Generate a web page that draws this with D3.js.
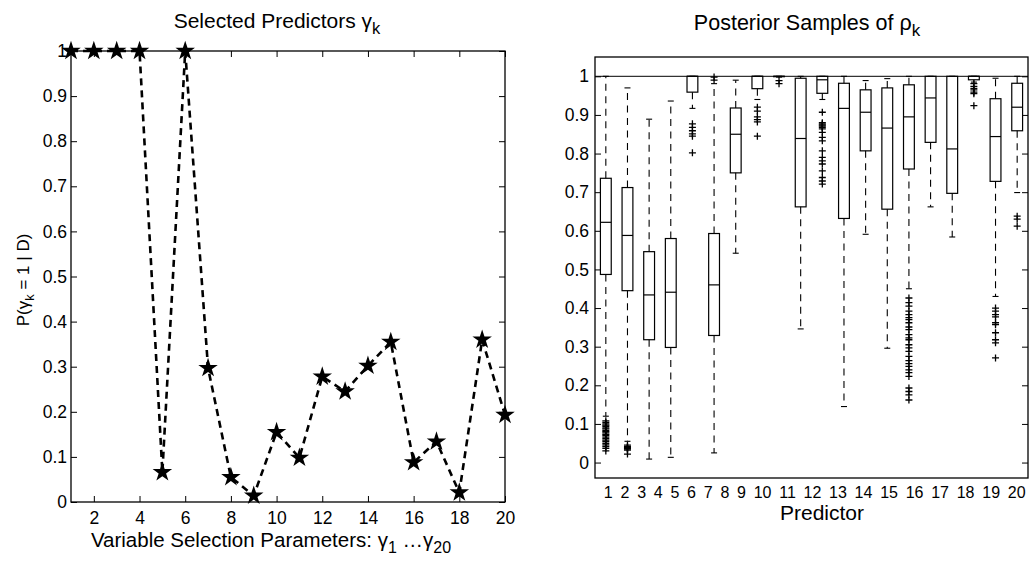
<!DOCTYPE html>
<html>
<head>
<meta charset="utf-8">
<script src="https://cdn.jsdelivr.net/npm/d3@7"></script>
<style>
  body { margin: 0; background: #fff; }
  svg text { font-family: "Liberation Sans", Arial, Helvetica, sans-serif; fill: #000; }
</style>
</head>
<body>
<svg id="chart" width="1034" height="566"></svg>
<script>
// ---- left panel: P(gamma_k = 1 | D) for each variable ----
var gammaIndex = d3.range(1, 21);
var gammaProb = [1, 1, 1, 1, 0.066, 1, 0.297, 0.055, 0.014, 0.155,
                 0.098, 0.278, 0.245, 0.302, 0.355, 0.088, 0.134, 0.021, 0.36, 0.193];
var leftXTicks = [2, 4, 6, 8, 10, 12, 14, 16, 18, 20];
var probTicks = [0, 0.1, 0.2, 0.3, 0.4, 0.5, 0.6, 0.7, 0.8, 0.9, 1];

// ---- right panel: boxplot summaries of rho_k posterior samples ----
var predictors = d3.range(1, 21);
var rhoWhiskLo = [0.12, 0.055, 0.009, 0.0135, 0.917, 0.025, 0.542, 0.94, 0.998, 0.346,
                  0.94, 0.145, 0.591, 0.296, 0.45, 0.662, 0.584, 0.985, 0.43, 0.699];
var rhoQ1 = [0.487, 0.445, 0.318, 0.298, 0.959, 0.329, 0.75, 0.968, 0.999, 0.662,
             0.956, 0.632, 0.807, 0.656, 0.76, 0.829, 0.697, 0.991, 0.728, 0.859];
var rhoMedian = [0.622, 0.588, 0.434, 0.441, 1, 0.46, 0.85, 1, 1, 0.839,
                 0.991, 0.917, 0.907, 0.866, 0.895, 0.944, 0.812, 1, 0.844, 0.92];
var rhoQ3 = [0.736, 0.712, 0.546, 0.58, 1, 0.593, 0.918, 1, 1, 0.995,
             1, 0.982, 0.965, 0.97, 0.978, 1, 1, 1, 0.942, 0.982];
var rhoWhiskHi = [1, 0.97, 0.889, 0.936, 1, 0.981, 0.99, 1, 1, 1,
                  1, 1, 0.989, 0.994, 1, 1, 1, 1, 0.995, 1];
var rhoOutliers = [
  [0.108, 0.104, 0.1, 0.097, 0.094, 0.09, 0.087, 0.083, 0.08, 0.077, 0.073, 0.07, 0.066,
   0.062, 0.058, 0.055, 0.05, 0.046, 0.042, 0.037, 0.03],
  [0.045, 0.041, 0.039, 0.037, 0.035, 0.032, 0.022],
  [],
  [],
  [0.877, 0.868, 0.859, 0.851, 0.845, 0.802],
  [0.99, 0.998],
  [],
  [0.92, 0.91, 0.895, 0.888, 0.882, 0.845],
  [0.989, 0.981],
  [],
  [0.907, 0.88, 0.877, 0.874, 0.871, 0.868, 0.864, 0.855, 0.842, 0.833, 0.807, 0.79,
   0.781, 0.773, 0.755, 0.738, 0.729, 0.721],
  [],
  [],
  [],
  [0.426, 0.414, 0.405, 0.392, 0.383, 0.375, 0.37, 0.362, 0.351, 0.344, 0.331, 0.323,
   0.318, 0.305, 0.297, 0.288, 0.275, 0.264, 0.256, 0.249, 0.24, 0.233, 0.223, 0.193,
   0.184, 0.175, 0.162],
  [],
  [],
  [0.981, 0.974, 0.969, 0.965, 0.959, 0.955, 0.924],
  [0.4, 0.392, 0.383, 0.377, 0.362, 0.357, 0.336, 0.318, 0.31, 0.271],
  [0.638, 0.63, 0.612]
];

var svg = d3.select("#chart");
var tickFont = "17.5px";

// ================= left panel =================
var L = { left: 71, right: 505, top: 51, bottom: 502 };
var xL = d3.scaleLinear().domain([1, 20]).range([L.left, L.right]);
var yL = d3.scaleLinear().domain([0, 1]).range([L.bottom, L.top]);
var fmt = d3.format("");

var gl = svg.append("g");

gl.append("g")
  .attr("transform", "translate(0," + L.bottom + ")")
  .call(d3.axisBottom(xL).tickValues(leftXTicks).tickSizeInner(-6).tickSizeOuter(0).tickPadding(10))
  .call(g => g.select(".domain").remove());
gl.append("g")
  .attr("transform", "translate(0," + L.top + ")")
  .call(d3.axisTop(xL).tickValues(leftXTicks).tickSizeInner(-6).tickSizeOuter(0).tickFormat(""))
  .call(g => g.select(".domain").remove());
gl.append("g")
  .attr("transform", "translate(" + L.left + ",0)")
  .call(d3.axisLeft(yL).tickValues(probTicks).tickSizeInner(-6).tickSizeOuter(0).tickPadding(4).tickFormat(fmt))
  .call(g => g.select(".domain").remove());
gl.append("g")
  .attr("transform", "translate(" + L.right + ",0)")
  .call(d3.axisRight(yL).tickValues(probTicks).tickSizeInner(-6).tickSizeOuter(0).tickFormat(""))
  .call(g => g.select(".domain").remove());

gl.selectAll(".tick line").attr("stroke", "#000").attr("stroke-width", 1);
gl.selectAll(".tick text").attr("font-size", tickFont).attr("font-family", null);

gl.append("rect")
  .attr("x", L.left).attr("y", L.top)
  .attr("width", L.right - L.left).attr("height", L.bottom - L.top)
  .attr("fill", "none").attr("stroke", "#000").attr("stroke-width", 1.3);

var line = d3.line()
  .x((d, i) => xL(gammaIndex[i]))
  .y(d => yL(d));

gl.append("path")
  .datum(gammaProb)
  .attr("d", line)
  .attr("fill", "none")
  .attr("stroke", "#000")
  .attr("stroke-width", 2.6)
  .attr("stroke-dasharray", "7,5");

gl.selectAll(".star")
  .data(gammaProb)
  .enter().append("path")
  .attr("class", "star")
  .attr("transform", (d, i) => "translate(" + xL(gammaIndex[i]) + "," + yL(d) + ")")
  .attr("d", d3.symbol().type(d3.symbolStar).size(118))
  .attr("fill", "#000");

// titles / labels
var t1 = gl.append("text")
  .attr("x", 277).attr("y", 28)
  .attr("text-anchor", "middle")
  .attr("font-size", "21px");
t1.append("tspan").text("Selected Predictors γ");
t1.append("tspan").attr("dy", 6).attr("font-size", "16.5px").text("k");

var yl = gl.append("text")
  .attr("transform", "translate(29,280) rotate(-90)")
  .attr("text-anchor", "middle")
  .attr("font-size", "17px");
yl.append("tspan").text("P(γ");
yl.append("tspan").attr("dy", 5).attr("font-size", "13px").text("k");
yl.append("tspan").attr("dy", -5).text(" = 1 | D)");

var xl = gl.append("text")
  .attr("x", 271).attr("y", 547)
  .attr("text-anchor", "middle")
  .attr("font-size", "20.5px");
xl.append("tspan").text("Variable Selection Parameters: γ");
xl.append("tspan").attr("dy", 6).attr("font-size", "16px").text("1");
xl.append("tspan").attr("dy", -6).text(" …γ");
xl.append("tspan").attr("dy", 6).attr("font-size", "16px").text("20");

// ================= right panel =================
var R = { left: 595, right: 1028, top: 57, bottom: 478 };
var xR = d3.scaleLinear().domain([0.5, 20.5]).range([R.left, R.right]);
var yR = d3.scaleLinear().domain([-0.04, 1.05]).range([R.bottom, R.top]);

var gr = svg.append("g");

var gxR = gr.append("g")
  .attr("transform", "translate(0," + R.bottom + ")")
  .call(d3.axisBottom(xR).tickValues(predictors).tickSize(0).tickPadding(9).tickFormat(fmt))
  .call(g => g.select(".domain").remove());
gr.append("g")
  .attr("transform", "translate(" + R.left + ",0)")
  .call(d3.axisLeft(yR).tickValues(probTicks).tickSizeInner(-6).tickSizeOuter(0).tickPadding(6).tickFormat(fmt))
  .call(g => g.select(".domain").remove());
gr.append("g")
  .attr("transform", "translate(" + R.right + ",0)")
  .call(d3.axisRight(yR).tickValues(probTicks).tickSizeInner(-6).tickSizeOuter(0).tickFormat(""))
  .call(g => g.select(".domain").remove());

gr.selectAll(".tick line").attr("stroke", "#000").attr("stroke-width", 1);
gr.selectAll(".tick text").attr("font-size", tickFont).attr("font-family", null);
gxR.selectAll(".tick text").attr("font-size", "16px");

// predictor labels are packed left to right in the original, not centred on the boxes
var lbls = gxR.selectAll(".tick text");
var widths = lbls.nodes().map(n => n.getComputedTextLength());
var spanStart = xR(1) + 2, spanEnd = xR(20) - 1;
var inner = d3.sum(widths) - widths[0] / 2 - widths[widths.length - 1] / 2;
var gap = (spanEnd - spanStart - inner) / (widths.length - 1);
var cx = spanStart;
lbls.each(function (d, i) {
  if (i > 0) cx += widths[i - 1] / 2 + gap + widths[i] / 2;
  d3.select(this).attr("x", cx - xR(d));
});

// reference line at rho = 1
gr.append("line")
  .attr("x1", R.left).attr("x2", R.right)
  .attr("y1", yR(1)).attr("y2", yR(1))
  .attr("stroke", "#000").attr("stroke-width", 1);

var boxHalf = xR(1.25) - xR(1);
var capHalf = 3;
var boxes = gr.selectAll(".box")
  .data(predictors)
  .enter().append("g")
  .attr("class", "box")
  .attr("transform", d => "translate(" + xR(d) + ",0)");

// whiskers (dashed)
boxes.append("line")
  .attr("y1", (d, i) => yR(rhoQ3[i])).attr("y2", (d, i) => yR(rhoWhiskHi[i]))
  .attr("stroke", "#000").attr("stroke-width", 1.1).attr("stroke-dasharray", "7,5.5");
boxes.append("line")
  .attr("y1", (d, i) => yR(rhoQ1[i])).attr("y2", (d, i) => yR(rhoWhiskLo[i]))
  .attr("stroke", "#000").attr("stroke-width", 1.1).attr("stroke-dasharray", "7,5.5");
// caps
boxes.append("line")
  .attr("x1", -capHalf).attr("x2", capHalf)
  .attr("y1", (d, i) => yR(rhoWhiskHi[i])).attr("y2", (d, i) => yR(rhoWhiskHi[i]))
  .attr("stroke", "#000").attr("stroke-width", 1.1);
boxes.append("line")
  .attr("x1", -capHalf).attr("x2", capHalf)
  .attr("y1", (d, i) => yR(rhoWhiskLo[i])).attr("y2", (d, i) => yR(rhoWhiskLo[i]))
  .attr("stroke", "#000").attr("stroke-width", 1.1);
// box
boxes.append("rect")
  .attr("x", -boxHalf).attr("width", 2 * boxHalf)
  .attr("y", (d, i) => yR(rhoQ3[i]))
  .attr("height", (d, i) => yR(rhoQ1[i]) - yR(rhoQ3[i]))
  .attr("fill", "none").attr("stroke", "#000").attr("stroke-width", 1.2);
// median
boxes.append("line")
  .attr("x1", -boxHalf).attr("x2", boxHalf)
  .attr("y1", (d, i) => yR(rhoMedian[i])).attr("y2", (d, i) => yR(rhoMedian[i]))
  .attr("stroke", "#000").attr("stroke-width", 1.2);

// outliers as "+" markers
var plus = {
  draw: function (ctx, size) {
    var r = Math.sqrt(size) / 2;
    ctx.moveTo(-r, 0); ctx.lineTo(r, 0);
    ctx.moveTo(0, -r); ctx.lineTo(0, r);
  }
};
boxes.selectAll(".out")
  .data((d, i) => rhoOutliers[i])
  .enter().append("path")
  .attr("class", "out")
  .attr("transform", v => "translate(0," + yR(v) + ")")
  .attr("d", d3.symbol().type(plus).size(49))
  .attr("fill", "none").attr("stroke", "#000").attr("stroke-width", 1.3);

gr.append("rect")
  .attr("x", R.left).attr("y", R.top)
  .attr("width", R.right - R.left).attr("height", R.bottom - R.top)
  .attr("fill", "none").attr("stroke", "#000").attr("stroke-width", 1.3);

var t2 = gr.append("text")
  .attr("x", 807).attr("y", 30)
  .attr("text-anchor", "middle")
  .attr("font-size", "21.5px");
t2.append("tspan").text("Posterior Samples of ρ");
t2.append("tspan").attr("dy", 6).attr("font-size", "17px").text("k");

gr.append("text")
  .attr("x", 822).attr("y", 520)
  .attr("text-anchor", "middle")
  .attr("font-size", "21px")
  .text("Predictor");
</script>
</body>
</html>
